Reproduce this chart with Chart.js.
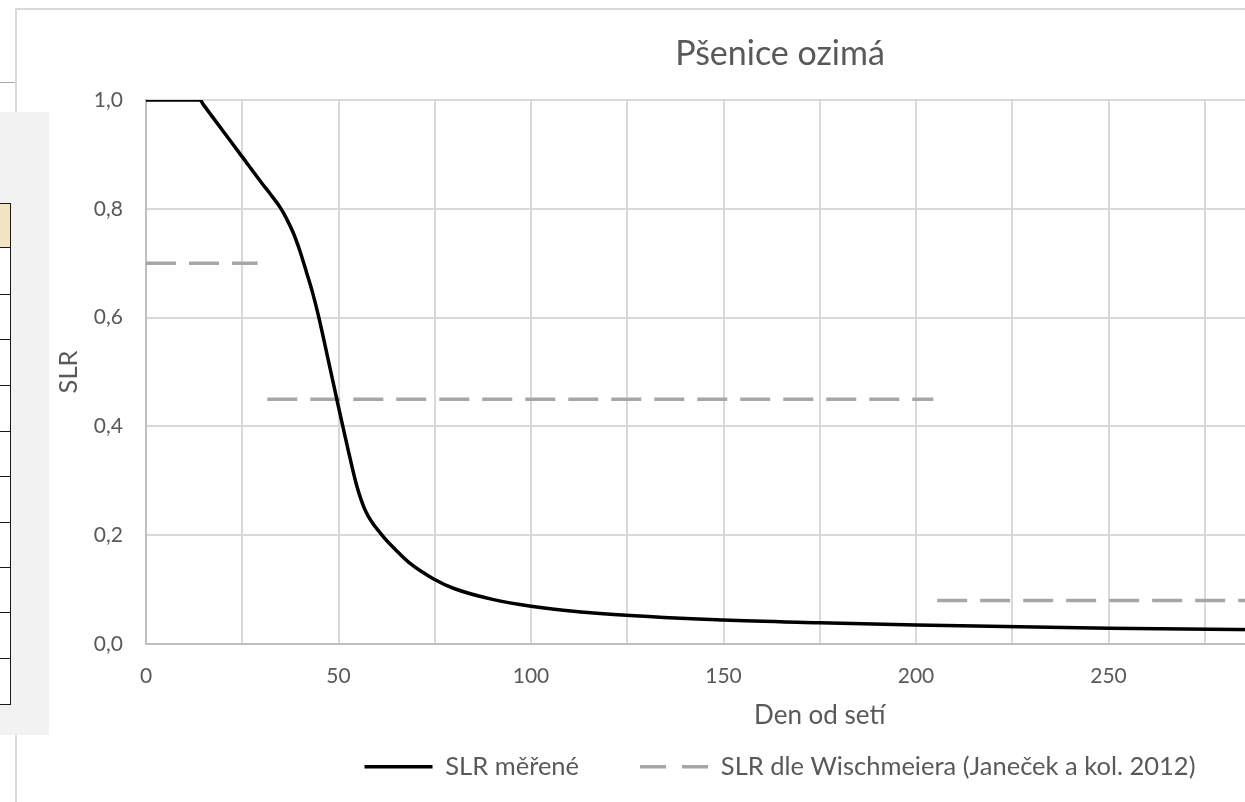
<!DOCTYPE html>
<html>
<head>
<meta charset="utf-8">
<script src="https://cdn.jsdelivr.net/npm/chart.js@4.4.1/dist/chart.umd.min.js"></script>
<style>
  html, body { margin: 0; padding: 0; width: 1245px; height: 802px; overflow: hidden; background: #fff; }
  #frame { position: absolute; left: 15px; top: 8px; width: 1526px; height: 800px; border: 2px solid #d9d9d9; background: #fff; }
  #c { display: block; }
  #sideLine { position: absolute; left: 0; top: 82px; width: 15px; height: 0; border-top: 1.5px solid #a6a6a6; }
  #panel { position: absolute; left: 0; top: 112px; width: 49px; height: 623px; background: #f2f2f2; }
  .cell { position: absolute; left: -2px; width: 13px; border-right: 1.5px solid #1a1a1a; border-bottom: 1.5px solid #1a1a1a; background: #fff; box-sizing: border-box; }
</style>
</head>
<body>
<div id="sideLine"></div>
<div id="frame"><canvas id="c" width="1526" height="800"></canvas></div>
<div id="panel"></div>
<script>
// ---- data ----
const measuredDays   = [0, 14, 15, 20, 25, 30, 32.2, 34.8, 36.5, 38.3, 40, 41.7, 43.3, 44.8, 47, 49.5, 50.8, 52.5, 54.7, 57, 61.3, 65, 68.6, 74.6, 80, 90, 100, 117.9, 150, 175, 200, 250, 290];
const measuredValues = [1.0, 1.0, 0.9905, 0.943, 0.8955, 0.848, 0.828, 0.803, 0.782, 0.755, 0.722, 0.683, 0.645, 0.603, 0.533, 0.452, 0.410, 0.357, 0.292, 0.245, 0.200, 0.172, 0.148, 0.120, 0.102, 0.082, 0.0695, 0.056, 0.044, 0.039, 0.035, 0.029, 0.026];
const wischDays   = [0, 29, 30, 31.5, 204.5, 205, 205.5, 290];
const wischValues = [0.70, 0.70, null, 0.45, 0.45, null, 0.08, 0.08];
const xTickStep = 25, xLabelStep = 50, xMin = 0, xMax = 350;
const yTickStep = 0.2, yMin = 0, yMax = 1.0;
const titleText = 'Pšenice ozimá';
const xTitle = 'Den od setí';
const yTitle = 'SLR';
const seriesNames = ['SLR měřené', 'SLR dle Wischmeiera (Janeček a kol. 2012)'];

// ---- side panel cells (decoration) ----
const panel = document.getElementById('panel');
const cellTops = [91, 136, 183, 228, 274, 320, 365, 411, 456, 501, 547, 593];
for (let i = 0; i < cellTops.length - 1; i++) {
  const d = document.createElement('div');
  d.className = 'cell';
  d.style.top = cellTops[i] + 'px';
  d.style.height = (cellTops[i + 1] - cellTops[i]) + 'px';
  if (i === 0) { d.style.background = '#f2e5c4'; d.style.borderTop = '1.5px solid #1a1a1a'; }
  panel.appendChild(d);
}

const toXY = (xs, ys) => xs.map((x, i) => ({ x: x, y: ys[i] }));
const txt = '#595959';
const FONT = 'Lato, "Open Sans", sans-serif';
const legendDash = [[], [26, 16]];

new Chart(document.getElementById('c'), {
  type: 'line',
  data: {
    datasets: [
      {
        label: seriesNames[0],
        data: toXY(measuredDays, measuredValues),
        borderColor: '#000000',
        backgroundColor: '#000000',
        borderWidth: 3.5,
        pointRadius: 0,
        cubicInterpolationMode: 'monotone',
        pointStyle: 'line'
      },
      {
        label: seriesNames[1],
        data: toXY(wischDays, wischValues),
        borderColor: '#a6a6a6',
        backgroundColor: '#a6a6a6',
        borderWidth: 3.5,
        borderDash: [30, 13],
        borderCapStyle: 'butt',
        pointRadius: 0,
        spanGaps: false,
        tension: 0,
        pointStyle: 'line'
      }
    ]
  },
  options: {
    responsive: false,
    animation: false,
    layout: { padding: { left: 0, right: 0, top: 0, bottom: 20.5 } },
    plugins: {
      title: {
        display: true, text: titleText, color: txt,
        font: { family: FONT, size: 34, weight: 'normal' },
        padding: { top: 24, bottom: 25.2 }
      },
      legend: {
        position: 'bottom',
        labels: {
          color: txt,
          font: { family: FONT, size: 25.5 },
          usePointStyle: true,
          pointStyleWidth: 68,
          padding: 61,
          generateLabels: chart => {
            const items = Chart.defaults.plugins.legend.labels.generateLabels(chart);
            items.forEach((it, i) => {
              it.lineDash = legendDash[i];
              it.lineWidth = 3.5;
              it.lineCap = 'butt';
            });
            return items;
          }
        }
      },
      tooltip: { enabled: false }
    },
    scales: {
      x: {
        type: 'linear', min: xMin, max: xMax,
        ticks: {
          stepSize: xTickStep, color: txt, padding: 20, maxRotation: 0, autoSkip: false,
          font: { family: FONT, size: 21 },
          callback: v => (v % xLabelStep === 0 ? String(v) : '')
        },
        grid: { color: '#d9d9d9', lineWidth: 2, drawTicks: false },
        border: { color: '#bfbfbf', width: 2 },
        title: { display: true, text: xTitle, color: txt, font: { family: FONT, size: 26 }, padding: { top: 0, bottom: -38.6 } },
        afterFit: s => { s.height = 49; }
      },
      y: {
        min: yMin, max: yMax,
        ticks: {
          stepSize: yTickStep, color: txt, padding: 23,
          font: { family: FONT, size: 21 },
          callback: v => v.toFixed(1).replace('.', ',')
        },
        grid: { color: '#d9d9d9', lineWidth: 2, drawTicks: false },
        border: { color: '#bfbfbf', width: 2 },
        title: { display: true, text: yTitle, color: txt, font: { family: FONT, size: 25.5 }, padding: { top: 36, bottom: 0 } },
        afterFit: s => { s.width = 129; }
      },
      yRightSpace: {
        position: 'right', min: yMin, max: yMax,
        grid: { display: false, drawTicks: false },
        border: { display: false },
        ticks: { display: false },
        afterFit: s => { s.width = 49.5; }
      }
    }
  }
});
</script>
</body>
</html>
